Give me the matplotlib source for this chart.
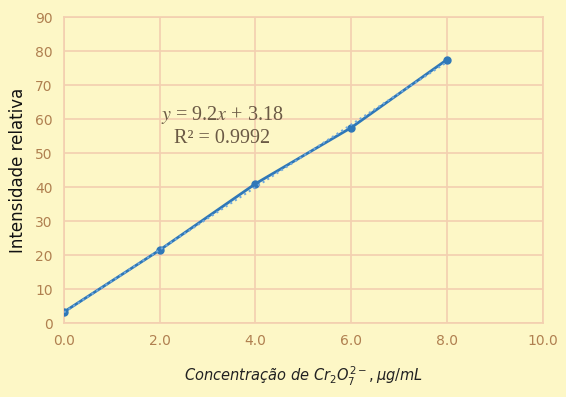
import numpy as np
import matplotlib
matplotlib.use('Agg')
import matplotlib.pyplot as plt

# Calibration data
conc = [0.0, 2.0, 4.0, 6.0, 8.0]
intensity = [3.3, 21.5, 41.0, 57.5, 77.5]
xticks = [0.0, 2.0, 4.0, 6.0, 8.0, 10.0]
yticks = [0, 10, 20, 30, 40, 50, 60, 70, 80, 90]
slope, intercept = 9.2, 3.18

bg = '#fdf7c6'
grid_c = '#f3cfb0'
tick_c = '#b08050'
line_c = '#2f78b8'

fig = plt.figure(figsize=(5.66, 3.97), dpi=100, facecolor=bg)
ax = fig.add_axes([0.113, 0.186, 0.846, 0.771], facecolor=bg)

ax.plot(conc, intensity, color=line_c, lw=2, marker='o', ms=5, zorder=3)
xf = np.array([conc[0], conc[-1]])
ax.plot(xf, slope * xf + intercept, color='#6fa8dc', lw=1.5, ls=':', zorder=4)

ax.set_xlim(0, 10)
ax.set_ylim(0, 90)
ax.set_xticks(xticks)
ax.set_xticklabels([f'{v:.1f}' for v in xticks])
ax.set_yticks(yticks)
ax.grid(True, color=grid_c, lw=1.2)
ax.set_axisbelow(True)
for s in ax.spines.values():
    s.set_color(grid_c)
    s.set_linewidth(1.2)
ax.tick_params(length=0, colors=tick_c, labelsize=10, pad=8)

plt.rcParams['mathtext.fontset'] = 'stix'
ax.text(3.3, 61.2, r'$y$ = 9.2$x$ + 3.18', family='Liberation Serif',
        fontsize=14.5, color='#6b5a45', ha='center', va='center')
ax.text(3.3, 54.4, 'R² = 0.9992', family='Liberation Serif',
        fontsize=14.5, color='#6b5a45', ha='center', va='center')

plt.rcParams['mathtext.fontset'] = 'dejavusans'
ax.set_ylabel('Intensidade relativa', fontsize=12, color='#111111', labelpad=6)
ax.set_xlabel(r'$Concentração\ de\ Cr_2O_7^{2-},\mu g/mL$', fontsize=10.5,
              color='#222222', labelpad=12)

fig.savefig('out.png', dpi=100, facecolor=bg)
